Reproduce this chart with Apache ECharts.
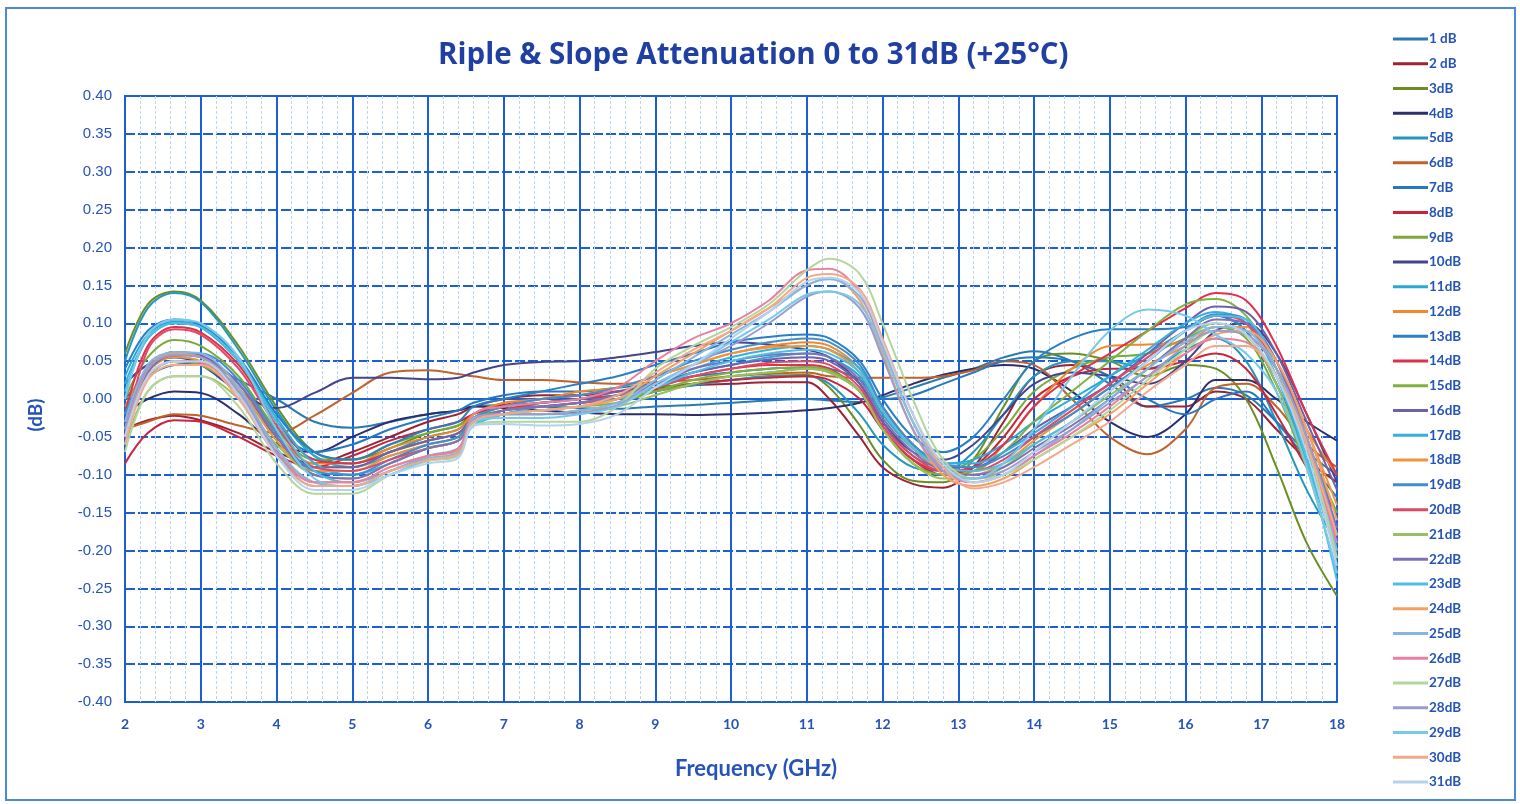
<!DOCTYPE html>
<html><head><meta charset="utf-8">
<script src="https://cdn.jsdelivr.net/npm/echarts@6/dist/echarts.min.js"></script>
<style>html,body{margin:0;padding:0;background:#fff}#c{width:1520px;height:804px}</style>
</head><body><div id="c"></div>
<script>
// Frequency points (GHz)
const freq = [2.0, 2.3, 2.65, 3.0, 3.5, 4.0, 4.5, 5.0, 5.5, 6.0, 6.4, 6.6, 7.0, 7.5, 8.0, 8.5, 9.0, 9.5, 10.0, 10.5, 11.0, 11.3, 11.7, 12.0, 12.4, 12.8, 13.2, 13.6, 14.0, 14.5, 15.0, 15.5, 16.0, 16.4, 16.8, 17.2, 17.6, 18.0];

const seriesNames = ["1 dB","2 dB","3dB","4dB","5dB","6dB","7dB","8dB","9dB","10dB","11dB","12dB","13dB","14dB","15dB","16dB","17dB","18dB","19dB","20dB","21dB","22dB","23dB","24dB","25dB","26dB","27dB","28dB","29dB","30dB","31dB"];

const seriesColors = ["#2b7bb0","#9b2335","#6b8e23","#2e2e6e","#2596be","#c0622b","#2878c0","#c8243c","#7aab3a","#44448e","#29a9d6","#f0882c","#2980c4","#e0304a","#80b040","#7060a8","#33b0e0","#f0943c","#3f8fd0","#e04864","#98c060","#8070b5","#4cc0e4","#f4a062","#86b6e0","#e880a0","#b5d69a","#9c9ccc","#78c8ea","#f4a88a","#b4d2ea"];

const att1  = [0.000, 0.030, 0.045, 0.047, 0.025, 0.000, -0.030, -0.038, -0.030, -0.020, -0.015, -0.010, -0.008, -0.010, -0.012, -0.013, -0.010, -0.008, -0.005, -0.002, 0.000, -0.002, -0.004, 0.002, 0.015, 0.028, 0.040, 0.055, 0.063, 0.050, 0.020, -0.010, 0.000, 0.015, 0.005, -0.030, -0.070, -0.100];
const att2  = [-0.040, -0.028, -0.022, -0.028, -0.045, -0.070, -0.085, -0.070, -0.050, -0.030, -0.020, -0.010, 0.000, 0.005, 0.005, 0.010, 0.015, 0.018, 0.020, 0.022, 0.022, 0.000, -0.050, -0.090, -0.112, -0.117, -0.090, -0.030, 0.030, 0.045, 0.030, -0.010, -0.010, 0.010, 0.000, -0.040, -0.080, -0.110];
const att3  = [0.060, 0.125, 0.142, 0.130, 0.070, -0.010, -0.070, -0.080, -0.065, -0.045, -0.035, -0.020, -0.010, -0.005, 0.000, 0.005, 0.015, 0.020, 0.025, 0.030, 0.032, 0.015, -0.035, -0.080, -0.108, -0.110, -0.080, -0.010, 0.050, 0.060, 0.050, 0.030, 0.045, 0.040, 0.000, -0.090, -0.190, -0.260];
const att4  = [-0.020, 0.000, 0.010, 0.008, -0.020, -0.060, -0.070, -0.050, -0.030, -0.020, -0.015, -0.010, -0.012, -0.015, -0.018, -0.020, -0.020, -0.021, -0.020, -0.018, -0.015, -0.012, -0.005, 0.005, 0.020, 0.032, 0.040, 0.045, 0.040, 0.010, -0.030, -0.050, -0.020, 0.025, 0.025, 0.000, -0.030, -0.055];
const att5  = [0.050, 0.120, 0.140, 0.128, 0.065, -0.015, -0.075, -0.085, -0.070, -0.050, -0.040, -0.025, -0.015, -0.010, -0.005, 0.000, 0.010, 0.018, 0.025, 0.030, 0.030, 0.020, -0.020, -0.060, -0.090, -0.095, -0.070, -0.020, 0.030, 0.050, 0.050, 0.040, 0.065, 0.080, 0.050, -0.030, -0.120, -0.190];
const att6  = [-0.040, -0.030, -0.020, -0.022, -0.035, -0.045, -0.022, 0.008, 0.035, 0.038, 0.033, 0.030, 0.025, 0.025, 0.022, 0.020, 0.022, 0.025, 0.030, 0.033, 0.035, 0.030, 0.028, 0.028, 0.028, 0.030, 0.038, 0.050, 0.045, 0.000, -0.050, -0.073, -0.040, 0.015, 0.020, -0.010, -0.060, -0.090];
const att7  = [0.020, 0.045, 0.055, 0.048, 0.010, -0.040, -0.070, -0.060, -0.040, -0.025, -0.015, -0.005, 0.005, 0.010, 0.010, 0.015, 0.020, 0.030, 0.035, 0.040, 0.042, 0.040, 0.025, 0.000, 0.005, 0.020, 0.035, 0.050, 0.055, 0.050, 0.030, 0.000, -0.020, 0.000, 0.010, -0.030, -0.080, -0.130];
const att8  = [-0.085, -0.045, -0.028, -0.030, -0.050, -0.075, -0.090, -0.075, -0.055, -0.040, -0.030, -0.020, -0.008, 0.000, 0.005, 0.010, 0.012, 0.020, 0.025, 0.028, 0.030, 0.025, 0.000, -0.040, -0.080, -0.100, -0.090, -0.050, 0.000, 0.030, 0.040, 0.040, 0.050, 0.060, 0.040, -0.020, -0.090, -0.150];
const att9  = [0.000, 0.055, 0.078, 0.070, 0.030, -0.040, -0.080, -0.080, -0.060, -0.045, -0.035, -0.025, -0.015, -0.010, -0.005, 0.000, 0.010, 0.020, 0.030, 0.035, 0.040, 0.035, 0.010, -0.040, -0.080, -0.095, -0.080, -0.040, 0.010, 0.040, 0.055, 0.060, 0.080, 0.095, 0.080, 0.010, -0.090, -0.180];
const att10 = [0.020, 0.045, 0.055, 0.045, 0.010, -0.012, 0.008, 0.028, 0.028, 0.026, 0.028, 0.035, 0.045, 0.049, 0.050, 0.055, 0.062, 0.070, 0.075, 0.072, 0.065, 0.055, 0.020, -0.030, -0.070, -0.080, -0.060, -0.020, 0.020, 0.035, 0.030, 0.020, 0.050, 0.090, 0.100, 0.060, -0.020, -0.110];
const att11 = [0.030, 0.085, 0.102, 0.095, 0.050, -0.020, -0.075, -0.090, -0.075, -0.060, -0.050, -0.030, -0.015, -0.005, 0.000, 0.005, 0.020, 0.035, 0.045, 0.055, 0.060, 0.055, 0.030, -0.020, -0.065, -0.085, -0.080, -0.060, -0.030, 0.000, 0.030, 0.060, 0.090, 0.110, 0.090, 0.020, -0.080, -0.170];
const att12 = [-0.010, 0.040, 0.060, 0.055, 0.020, -0.045, -0.085, -0.085, -0.065, -0.050, -0.040, -0.020, -0.005, 0.000, 0.010, 0.015, 0.030, 0.045, 0.060, 0.070, 0.075, 0.070, 0.040, -0.010, -0.060, -0.090, -0.095, -0.060, -0.010, 0.040, 0.070, 0.072, 0.075, 0.090, 0.085, 0.040, -0.040, -0.100];
const att13 = [0.040, 0.090, 0.105, 0.098, 0.055, -0.020, -0.070, -0.080, -0.060, -0.040, -0.030, -0.010, 0.000, 0.010, 0.020, 0.030, 0.045, 0.060, 0.075, 0.082, 0.085, 0.080, 0.050, 0.000, -0.050, -0.070, -0.050, 0.000, 0.050, 0.080, 0.092, 0.092, 0.095, 0.110, 0.090, 0.020, -0.070, -0.150];
const att14 = [-0.020, 0.070, 0.095, 0.088, 0.045, -0.030, -0.080, -0.085, -0.070, -0.055, -0.045, -0.030, -0.015, -0.005, 0.000, 0.005, 0.015, 0.030, 0.040, 0.045, 0.045, 0.040, 0.010, -0.040, -0.080, -0.095, -0.090, -0.060, -0.010, 0.030, 0.060, 0.090, 0.120, 0.140, 0.130, 0.070, -0.020, -0.100];
const att15 = [-0.020, 0.030, 0.050, 0.045, 0.010, -0.050, -0.090, -0.090, -0.070, -0.055, -0.045, -0.030, -0.020, -0.015, -0.010, -0.005, 0.010, 0.025, 0.035, 0.040, 0.042, 0.038, 0.010, -0.040, -0.085, -0.100, -0.095, -0.070, -0.030, 0.010, 0.050, 0.090, 0.125, 0.132, 0.110, 0.040, -0.060, -0.150];
const att16 = [-0.030, 0.040, 0.062, 0.058, 0.020, -0.050, -0.090, -0.090, -0.070, -0.055, -0.045, -0.025, -0.010, -0.005, 0.000, 0.010, 0.020, 0.035, 0.045, 0.052, 0.055, 0.050, 0.020, -0.030, -0.075, -0.090, -0.090, -0.070, -0.040, -0.010, 0.020, 0.060, 0.100, 0.122, 0.115, 0.060, -0.030, -0.120];
const att17 = [0.020, 0.080, 0.100, 0.095, 0.050, -0.025, -0.085, -0.100, -0.085, -0.065, -0.055, -0.035, -0.020, -0.010, -0.005, 0.005, 0.020, 0.040, 0.055, 0.065, 0.070, 0.065, 0.040, -0.010, -0.060, -0.085, -0.085, -0.070, -0.045, -0.010, 0.030, 0.065, 0.100, 0.115, 0.100, 0.030, -0.080, -0.210];
const att18 = [-0.040, 0.035, 0.055, 0.050, 0.015, -0.055, -0.095, -0.095, -0.075, -0.060, -0.050, -0.025, -0.010, 0.000, 0.005, 0.015, 0.030, 0.045, 0.060, 0.068, 0.070, 0.065, 0.035, -0.015, -0.065, -0.095, -0.100, -0.085, -0.055, -0.020, 0.015, 0.045, 0.070, 0.095, 0.095, 0.050, -0.040, -0.140];
const att19 = [-0.020, 0.040, 0.060, 0.060, 0.025, -0.045, -0.095, -0.100, -0.080, -0.060, -0.050, -0.025, -0.010, 0.000, 0.005, 0.015, 0.030, 0.050, 0.065, 0.075, 0.080, 0.075, 0.045, -0.010, -0.060, -0.085, -0.090, -0.075, -0.050, -0.020, 0.015, 0.050, 0.090, 0.112, 0.105, 0.050, -0.060, -0.200];
const att20 = [-0.050, 0.065, 0.092, 0.085, 0.040, -0.035, -0.090, -0.095, -0.080, -0.065, -0.055, -0.030, -0.015, -0.010, -0.005, 0.000, 0.015, 0.030, 0.040, 0.048, 0.050, 0.045, 0.015, -0.035, -0.075, -0.095, -0.095, -0.080, -0.050, -0.015, 0.020, 0.055, 0.090, 0.110, 0.100, 0.040, -0.060, -0.180];
const att21 = [-0.060, 0.010, 0.030, 0.030, 0.000, -0.060, -0.100, -0.105, -0.085, -0.065, -0.055, -0.030, -0.020, -0.020, -0.015, -0.010, 0.005, 0.020, 0.030, 0.035, 0.040, 0.035, 0.010, -0.040, -0.085, -0.105, -0.105, -0.090, -0.060, -0.030, 0.005, 0.040, 0.080, 0.100, 0.085, 0.020, -0.090, -0.230];
const att22 = [-0.040, 0.035, 0.058, 0.055, 0.020, -0.050, -0.100, -0.105, -0.085, -0.065, -0.055, -0.030, -0.015, -0.010, -0.005, 0.005, 0.020, 0.040, 0.050, 0.058, 0.060, 0.055, 0.025, -0.025, -0.070, -0.095, -0.100, -0.090, -0.065, -0.035, 0.000, 0.040, 0.080, 0.105, 0.100, 0.050, -0.050, -0.170];
const att23 = [0.010, 0.080, 0.100, 0.095, 0.050, -0.030, -0.095, -0.110, -0.095, -0.075, -0.065, -0.035, -0.020, -0.015, -0.010, 0.000, 0.015, 0.035, 0.050, 0.060, 0.065, 0.060, 0.035, -0.015, -0.065, -0.090, -0.095, -0.085, -0.060, -0.030, 0.010, 0.050, 0.090, 0.110, 0.105, 0.040, -0.080, -0.240];
const att24 = [-0.050, 0.040, 0.060, 0.055, 0.010, -0.065, -0.110, -0.110, -0.090, -0.075, -0.068, -0.030, -0.020, -0.015, -0.010, 0.000, 0.030, 0.060, 0.090, 0.120, 0.150, 0.160, 0.130, 0.060, -0.040, -0.100, -0.115, -0.105, -0.080, -0.050, -0.020, 0.020, 0.060, 0.085, 0.090, 0.050, -0.040, -0.160];
const att25 = [-0.030, 0.045, 0.062, 0.060, 0.015, -0.065, -0.110, -0.115, -0.095, -0.078, -0.070, -0.025, -0.020, -0.020, -0.015, -0.005, 0.025, 0.055, 0.085, 0.115, 0.150, 0.158, 0.135, 0.070, -0.030, -0.090, -0.110, -0.100, -0.075, -0.040, 0.000, 0.040, 0.075, 0.095, 0.090, 0.040, -0.060, -0.200];
const att26 = [-0.050, 0.030, 0.050, 0.048, 0.005, -0.070, -0.110, -0.110, -0.090, -0.075, -0.065, -0.020, -0.010, -0.005, 0.000, 0.015, 0.050, 0.080, 0.100, 0.130, 0.170, 0.172, 0.140, 0.070, -0.030, -0.095, -0.110, -0.100, -0.075, -0.045, -0.010, 0.030, 0.060, 0.080, 0.075, 0.030, -0.060, -0.190];
const att27 = [-0.070, 0.010, 0.030, 0.030, -0.010, -0.085, -0.125, -0.125, -0.100, -0.082, -0.075, -0.035, -0.030, -0.030, -0.030, -0.010, 0.040, 0.070, 0.095, 0.125, 0.170, 0.185, 0.165, 0.100, 0.000, -0.080, -0.105, -0.100, -0.080, -0.050, -0.015, 0.025, 0.065, 0.090, 0.085, 0.040, -0.060, -0.210];
const att28 = [-0.040, 0.040, 0.058, 0.055, 0.010, -0.070, -0.115, -0.115, -0.095, -0.080, -0.072, -0.028, -0.020, -0.020, -0.018, -0.008, 0.020, 0.045, 0.070, 0.100, 0.135, 0.142, 0.120, 0.055, -0.040, -0.095, -0.105, -0.095, -0.070, -0.040, -0.005, 0.030, 0.070, 0.090, 0.085, 0.040, -0.050, -0.180];
const att29 = [0.000, 0.085, 0.105, 0.100, 0.055, -0.040, -0.105, -0.115, -0.100, -0.080, -0.072, -0.030, -0.025, -0.025, -0.020, -0.010, 0.020, 0.045, 0.075, 0.105, 0.138, 0.142, 0.125, 0.065, -0.030, -0.090, -0.105, -0.085, -0.040, 0.030, 0.090, 0.118, 0.110, 0.085, 0.060, 0.010, -0.090, -0.230];
const att30 = [-0.060, 0.025, 0.045, 0.045, 0.000, -0.075, -0.115, -0.115, -0.095, -0.080, -0.072, -0.030, -0.020, -0.015, -0.010, 0.005, 0.035, 0.065, 0.090, 0.120, 0.160, 0.165, 0.145, 0.080, -0.020, -0.090, -0.118, -0.110, -0.090, -0.060, -0.030, 0.010, 0.045, 0.070, 0.070, 0.030, -0.060, -0.180];
const att31 = [-0.050, 0.030, 0.050, 0.050, 0.005, -0.075, -0.120, -0.120, -0.100, -0.085, -0.078, -0.035, -0.033, -0.035, -0.033, -0.020, 0.015, 0.045, 0.080, 0.115, 0.155, 0.160, 0.140, 0.075, -0.020, -0.085, -0.110, -0.100, -0.070, -0.030, 0.010, 0.050, 0.090, 0.100, 0.085, 0.030, -0.070, -0.220];

const allValues = [att1,att2,att3,att4,att5,att6,att7,att8,att9,att10,att11,att12,att13,att14,att15,att16,att17,att18,att19,att20,att21,att22,att23,att24,att25,att26,att27,att28,att29,att30,att31];

const BLUE = '#1a5fd6';
const TXT = '#2553b8';
const chart = echarts.init(document.getElementById('c'));
chart.setOption({
  backgroundColor: '#ffffff',
  animation: false,
  color: seriesColors,
  title: {
    text: 'Riple & Slope Attenuation 0 to 31dB (+25°C)',
    left: 433, top: 36,
    textStyle: { fontFamily: 'Open Sans', fontWeight: 'bold', fontSize: 29.5, color: '#1f3fa3' }
  },
  graphic: [{
    type: 'rect', silent: true, z: -10,
    shape: { x: 6, y: 8, width: 1509, height: 792 },
    style: { fill: 'none', stroke: '#4a8ad8', lineWidth: 2 }
  }],
  legend: {
    orient: 'vertical', left: 1388, top: 27,
    icon: 'path://M0,0H35V3H0Z',
    itemWidth: 35, itemHeight: 3, itemGap: 10.77,
    textStyle: { fontFamily: 'Lato', fontWeight: 'bold', fontSize: 13.5, lineHeight: 14, color: TXT, padding: [0,0,0,-4] },
    data: seriesNames
  },
  grid: { left: 125, right: 183, top: 96, bottom: 102, show: true, borderColor: BLUE, borderWidth: 2, containLabel: false },
  xAxis: {
    type: 'value', min: 2, max: 18, interval: 1,
    name: 'Frequency (GHz)', nameLocation: 'middle', nameGap: 56,
    nameTextStyle: { fontFamily: 'Lato', fontWeight: 'bold', fontSize: 22, color: TXT, padding: [0,0,0,50] },
    axisLine: { show: true, lineStyle: { color: BLUE, width: 2 } },
    axisTick: { show: false },
    axisLabel: { margin: 15, fontFamily: 'Lato', fontWeight: 'bold', fontSize: 14, color: TXT },
    splitLine: { show: true, lineStyle: { color: BLUE, width: 2, type: 'solid' } },
    minorTick: { show: false, splitNumber: 5 },
    minorSplitLine: { show: true, lineStyle: { color: '#bcd6f0', width: 1, type: [3, 2] } }
  },
  yAxis: {
    type: 'value', min: -0.4, max: 0.4, interval: 0.05,
    name: '(dB)', nameLocation: 'middle', nameGap: 80, nameRotate: 90,
    nameTextStyle: { fontFamily: 'Lato', fontWeight: 'bold', fontSize: 19, color: TXT, padding: [0,32,0,0] },
    axisLine: { show: true, lineStyle: { color: BLUE, width: 2 } },
    axisTick: { show: false },
    axisLabel: { margin: 13, fontFamily: 'Liberation Sans', fontSize: 15, color: TXT, formatter: v => v.toFixed(2) },
    splitLine: { show: true, lineStyle: { color: BLUE, width: 2, type: [10, 3] } }
  },
  series: seriesNames.map((n, i) => ({
    name: n, type: 'line', smooth: 0.35, symbol: 'none',
    lineStyle: { width: 2, color: seriesColors[i] },
    itemStyle: { color: seriesColors[i] },
    data: freq.map((f, j) => [f, allValues[i][j]])
  }))
});
</script></body></html>
